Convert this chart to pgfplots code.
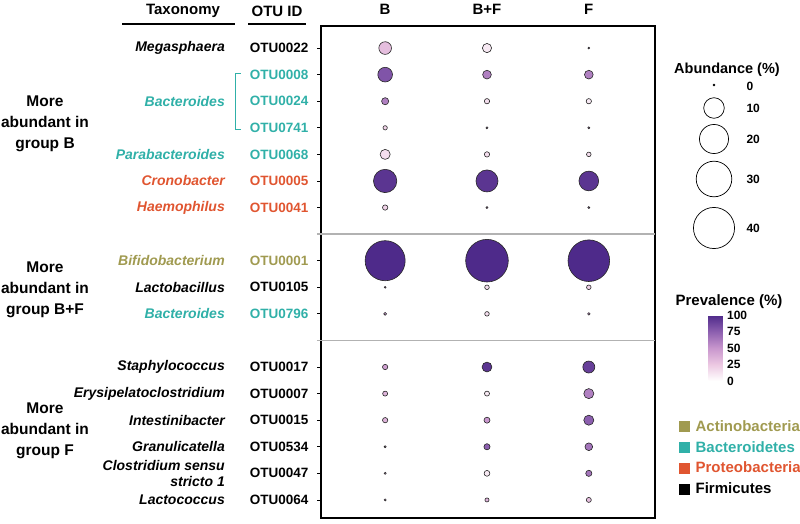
\documentclass[border=0pt]{standalone}
\usepackage{pgfplots}
\pgfplotsset{compat=1.18}
\usepackage{fontspec}
\setmainfont{Liberation Sans}
\usetikzlibrary{calc}
\definecolor{tealc}{HTML}{30B0A8}
\definecolor{orangec}{HTML}{E05530}
\definecolor{olivec}{HTML}{A09A50}
\newcommand\fs[1]{\fontsize{#1}{#1}\selectfont\bfseries}

\begin{document}
\begin{tikzpicture}[x=1pt,y=1pt]
\path[use as bounding box] (0,0) rectangle (800,524);

% ---------- overlay axis in pixel coordinates (labels and abundance legend)
\begin{axis}[at={(0pt,0pt)}, anchor=south west, scale only axis,
  width=800pt, height=524pt, xmin=0, xmax=800, ymin=0, ymax=524,
  y dir=reverse, hide axis, clip=false]
\addplot[scatter, only marks, mark=*,
  visualization depends on={\thisrow{ab}\as\ab},
  scatter/use mapped color={draw=black, fill=white},
  scatter/@pre marker code/.append style={/tikz/mark size={max(0.8,3.25*sqrt(\ab))}},
  mark options={line width=0.7pt}]
  table {
x y ab
714 85 0
714 108 10
714 139 20
714 179 30
714 228 40
};
\node[font=\fs{14.5}] at (axis cs:727,70) {Abundance (\%)};
\node[anchor=west,font=\fs{12}] at (axis cs:743,86) {0};
\node[anchor=west,font=\fs{12}] at (axis cs:743,108) {10};
\node[anchor=west,font=\fs{12}] at (axis cs:743,139) {20};
\node[anchor=west,font=\fs{12}] at (axis cs:743,179) {30};
\node[anchor=west,font=\fs{12}] at (axis cs:743,228) {40};
\node[font=\fs{15}] at (axis cs:729,302) {Prevalence (\%)};
% headers
\node[font=\fs{15}] at (axis cs:183,11) {Taxonomy};
\node[font=\fs{15}] at (axis cs:277,11) {OTU ID};
\draw[line width=1.3pt] (axis cs:122,24) -- (axis cs:235,24);
\draw[line width=1.3pt] (axis cs:248,24) -- (axis cs:306,24);
% group labels
\node[align=center, font=\fontsize{15.5}{21}\selectfont\bfseries] at (axis cs:45,124) {More\\abundant in\\group B};
\node[align=center, font=\fontsize{15.5}{21}\selectfont\bfseries] at (axis cs:45,290) {More\\abundant in\\group B+F};
\node[align=center, font=\fontsize{15.5}{21}\selectfont\bfseries] at (axis cs:45,431) {More\\abundant in\\group F};
\end{axis}

% ---------- main bubble axis
\begin{axis}[at={(321pt,6pt)}, anchor=south west, scale only axis,
  width=334pt, height=492pt,
  xmin=0.37, xmax=3.65, ymin=0.17, ymax=18.68, y dir=reverse, clip=false,
  axis line style={line width=1.6pt},
  xtick={1,2,3}, xticklabels={B,B+F,F}, xtick pos=upper, xticklabel pos=upper,
  x tick style={draw=none}, xticklabel style={font=\fs{15}, yshift=4pt},
  ytick={1,2,3,4,5,6,7,9,10,11,13,14,15,16,17,18},
  yticklabels={{OTU0022},{\textcolor{tealc}{OTU0008}},{\textcolor{tealc}{OTU0024}},{\textcolor{tealc}{OTU0741}},{\textcolor{tealc}{OTU0068}},{\textcolor{orangec}{OTU0005}},{\textcolor{orangec}{OTU0041}},{\textcolor{olivec}{OTU0001}},{OTU0105},{\textcolor{tealc}{OTU0796}},{OTU0017},{OTU0007},{OTU0015},{OTU0534},{OTU0047},{OTU0064}},
  ytick pos=left, tick align=outside, major tick length=4pt,
  y tick style={black, line width=0.8pt},
  yticklabel style={font=\fs{13.5}, xshift=-5pt},
  colormap={prev}{rgb255=(255,255,255) rgb255=(236,200,226) rgb255=(200,150,205) rgb255=(140,95,175) rgb255=(78,42,138)},
  point meta min=0, point meta max=100,
  colorbar,
  colorbar style={scale only axis, width=14pt, height=66pt,
    at={($(parent axis.south east)+(45pt,137pt)$)}, anchor=south west,
    ytick={0,25,50,75,100}, axis line style={draw=none}, major tick length=0pt,
    yticklabel style={font=\fs{12}, xshift=1pt},
    /pgf/number format/assume math mode=true},
  legend style={at={(1.072,0.203)}, anchor=north west, draw=none, fill=none,
    font=\fs{15}, row sep=4.5pt, inner sep=0pt, cells={anchor=west}},
]
\addplot[scatter, only marks, mark=*, forget plot, point meta=explicit,
  visualization depends on={\thisrow{ab}\as\ab},
  scatter/use mapped color={draw=black!85, fill=mapped color},
  scatter/@pre marker code/.append style={/tikz/mark size={max(0.9,3.25*sqrt(\ab))}},
  mark options={line width=0.6pt}]
  table[x=x, y=y, meta=prev] {
x y ab prev
1 1 3.8 30
2 1 2.0 10
3 1 0.05 50
1 2 5.1 80
2 2 1.8 60
3 2 1.8 60
1 3 1.2 60
2 3 0.67 15
3 3 0.67 10
1 4 0.45 20
2 4 0.1 50
3 4 0.1 50
1 5 2.4 15
2 5 0.67 15
3 5 0.5 15
1 6 12.9 95
2 6 11.5 95
3 6 9.2 95
1 7 0.67 20
2 7 0.1 50
3 7 0.1 50
1 9 38 100
2 9 43 100
3 9 41 100
1 10 0.05 50
2 10 0.5 15
3 10 0.5 20
1 11 0.2 50
2 11 0.5 15
3 11 0.15 50
1 13 0.67 45
2 13 2.3 95
3 13 3.4 90
1 14 0.6 35
2 14 0.6 10
3 14 2.4 60
1 15 0.67 35
2 15 0.85 50
3 15 2.4 75
1 16 0.1 40
2 16 0.9 75
3 16 1.4 65
1 17 0.1 40
2 17 0.8 10
3 17 0.9 65
1 18 0.1 40
2 18 0.4 35
3 18 0.6 30
};
\addplot[no marks, draw=black!30, line width=1.8pt, forget plot] coordinates {(0.33,8) (3.65,8)};
\addplot[no marks, draw=black!30, line width=1.8pt, forget plot] coordinates {(0.33,12) (3.65,12)};

\addlegendimage{legend image code/.code={\fill[olivec] (0pt,-5pt) rectangle (10pt,5pt);}}
\addlegendentry{\hspace{4pt}\textcolor{olivec}{Actinobacteria}}
\addlegendimage{legend image code/.code={\fill[tealc] (0pt,-5pt) rectangle (10pt,5pt);}}
\addlegendentry{\hspace{4pt}\textcolor{tealc}{Bacteroidetes}}
\addlegendimage{legend image code/.code={\fill[orangec] (0pt,-5pt) rectangle (10pt,5pt);}}
\addlegendentry{\hspace{4pt}\textcolor{orangec}{Proteobacteria}}
\addlegendimage{legend image code/.code={\fill[black] (0pt,-5pt) rectangle (10pt,5pt);}}
\addlegendentry{\hspace{4pt}Firmicutes}

% taxonomy names
\node[anchor=east, font=\fs{14}\itshape] at (axis cs:-0.54,1) {Megasphaera};
\node[anchor=east, font=\fs{14}\itshape, text=tealc] at (axis cs:-0.54,3) {Bacteroides};
\node[anchor=east, font=\fs{14}\itshape, text=tealc] at (axis cs:-0.54,5) {Parabacteroides};
\node[anchor=east, font=\fs{14}\itshape, text=orangec] at (axis cs:-0.54,6) {Cronobacter};
\node[anchor=east, font=\fs{14}\itshape, text=orangec] at (axis cs:-0.54,7) {Haemophilus};
\node[anchor=east, font=\fs{14}\itshape, text=olivec] at (axis cs:-0.54,9) {Bifidobacterium};
\node[anchor=east, font=\fs{14}\itshape] at (axis cs:-0.54,10) {Lactobacillus};
\node[anchor=east, font=\fs{14}\itshape, text=tealc] at (axis cs:-0.54,11) {Bacteroides};
\node[anchor=east, font=\fs{14}\itshape] at (axis cs:-0.54,13) {Staphylococcus};
\node[anchor=east, font=\fs{14}\itshape] at (axis cs:-0.54,14) {Erysipelatoclostridium};
\node[anchor=east, font=\fs{14}\itshape] at (axis cs:-0.54,15) {Intestinibacter};
\node[anchor=east, font=\fs{14}\itshape] at (axis cs:-0.54,16) {Granulicatella};
\node[anchor=east, align=right, font=\fontsize{14}{15.5}\selectfont\bfseries\itshape] at (axis cs:-0.54,17) {Clostridium sensu\\stricto 1};
\node[anchor=east, font=\fs{14}\itshape] at (axis cs:-0.54,18) {Lactococcus};
\draw[tealc, line width=1pt] (axis cs:-0.42,1.94) -- (axis cs:-0.47,1.94) -- (axis cs:-0.47,4.05) -- (axis cs:-0.42,4.05);
\end{axis}
\end{tikzpicture}
\end{document}
